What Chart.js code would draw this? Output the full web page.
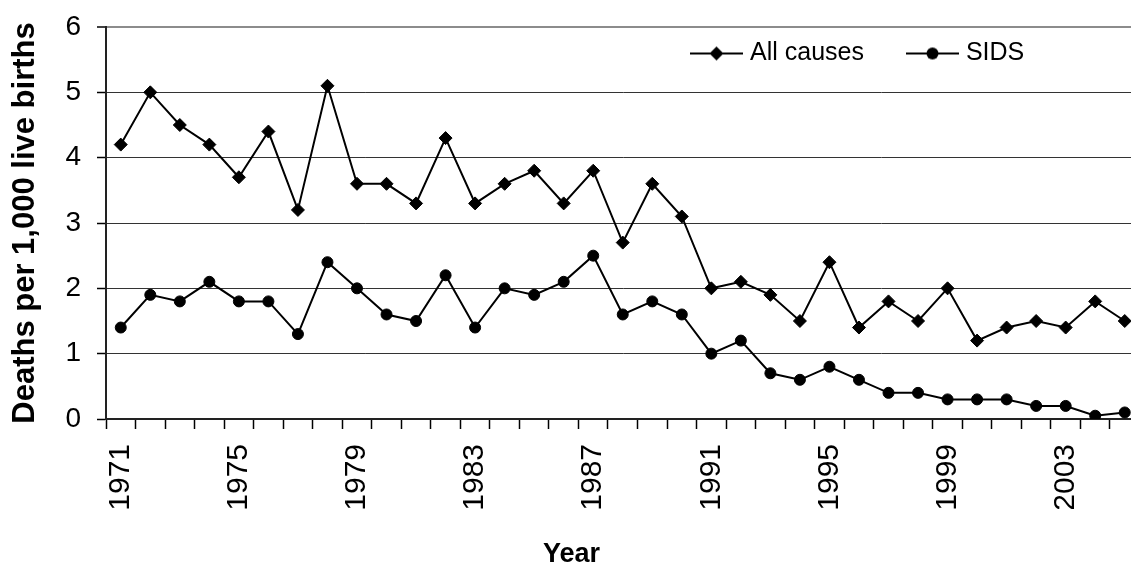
<!DOCTYPE html>
<html>
<head>
<meta charset="utf-8">
<script src="https://cdn.jsdelivr.net/npm/chart.js@4/dist/chart.umd.min.js"></script>
<style>
  html, body { margin: 0; padding: 0; background: #fff; overflow: hidden; }
  #wrap { position: relative; width: 1147px; height: 572px; }
</style>
</head>
<body>
<div id="wrap"><canvas id="c"></canvas></div>
<script>
const years = ['1971','1972','1973','1974','1975','1976','1977','1978','1979','1980',
  '1981','1982','1983','1984','1985','1986','1987','1988','1989','1990',
  '1991','1992','1993','1994','1995','1996','1997','1998','1999','2000',
  '2001','2002','2003','2004','2005'];
const allCauses = [4.2, 5.0, 4.5, 4.2, 3.7, 4.4, 3.2, 5.1, 3.6, 3.6,
  3.3, 4.3, 3.3, 3.6, 3.8, 3.3, 3.8, 2.7, 3.6, 3.1,
  2.0, 2.1, 1.9, 1.5, 2.4, 1.4, 1.8, 1.5, 2.0, 1.2,
  1.4, 1.5, 1.4, 1.8, 1.5];
const sids = [1.4, 1.9, 1.8, 2.1, 1.8, 1.8, 1.3, 2.4, 2.0, 1.6,
  1.5, 2.2, 1.4, 2.0, 1.9, 2.1, 2.5, 1.6, 1.8, 1.6,
  1.0, 1.2, 0.7, 0.6, 0.8, 0.6, 0.4, 0.4, 0.3, 0.3,
  0.3, 0.2, 0.2, 0.05, 0.1];
const seriesNames = ['All causes', 'SIDS'];
const yTicks = [0, 1, 2, 3, 4, 5, 6];

const FONT = '"Liberation Sans", Arial, Helvetica, sans-serif';

function makeIcon(kind) {
  const cv = document.createElement('canvas');
  cv.width = 53; cv.height = 16;
  const g = cv.getContext('2d');
  g.strokeStyle = '#000'; g.fillStyle = '#000'; g.lineWidth = 2;
  g.beginPath(); g.moveTo(0, 8); g.lineTo(53, 8); g.stroke();
  g.beginPath();
  if (kind === 'diamond') {
    g.moveTo(26.5, 1); g.lineTo(33.5, 8); g.lineTo(26.5, 15); g.lineTo(19.5, 8); g.closePath();
  } else {
    g.arc(26.5, 8, 6, 0, Math.PI * 2);
  }
  g.fill();
  return cv;
}
const icons = [makeIcon('diamond'), makeIcon('circle')];

const legendMover = {
  id: 'legendMover',
  afterLayout(chart) {
    const lg = chart.legend;
    if (!lg) return;
    lg.left = 648; lg.right = 1141; lg.width = 493;
    lg.top = -6.5; lg.bottom = 90; lg.height = 96.5;
  }
};

new Chart(document.getElementById('c'), {
  type: 'line',
  data: {
    labels: years,
    datasets: [
      {
        label: seriesNames[0], data: allCauses,
        borderColor: '#000', backgroundColor: '#000', borderWidth: 2,
        pointStyle: 'rectRot', pointRadius: 6.5, pointBorderWidth: 1,
        pointBackgroundColor: '#000', pointBorderColor: '#000', tension: 0
      },
      {
        label: seriesNames[1], data: sids,
        borderColor: '#000', backgroundColor: '#000', borderWidth: 2,
        pointStyle: 'circle', pointRadius: 5.5, pointBorderWidth: 1,
        pointBackgroundColor: '#000', pointBorderColor: '#000', tension: 0
      }
    ]
  },
  options: {
    responsive: true,
    maintainAspectRatio: false,
    animation: false,
    layout: { padding: { left: 0, right: 4, top: 27, bottom: 1.6 } },
    plugins: {
      tooltip: { enabled: false },
      title: {
        display: true, position: 'bottom', text: 'Year', color: '#000',
        font: { family: FONT, size: 27, weight: 'bold' },
        padding: { top: 29, bottom: 0 }
      },
      legend: {
        display: true, position: 'top', align: 'start', fullSize: false, maxHeight: 0.01,
        labels: {
          color: '#000', font: { family: FONT, size: 25 },
          usePointStyle: true, pointStyleWidth: 42, padding: 47.5,
          generateLabels(chart) {
            const items = Chart.defaults.plugins.legend.labels.generateLabels(chart);
            items.forEach((it, i) => { it.pointStyle = icons[i]; });
            return items;
          }
        }
      }
    },
    scales: {
      x: {
        type: 'category',
        offset: true,
        afterFit(scale) { scale.height = 90; scale.paddingLeft = 0; scale.paddingRight = 0; },
        grid: {
          drawOnChartArea: false, drawTicks: true, tickLength: 10, offset: true,
          tickColor: '#000', tickWidth: 1.5
        },
        border: { display: true, color: '#222', width: 2 },
        ticks: {
          autoSkip: false, minRotation: 90, maxRotation: 90, padding: 15,
          color: '#000', font: { family: FONT, size: 30 },
          callback(value, index) { return index % 4 === 0 ? years[index] : ''; }
        }
      },
      y: {
        min: yTicks[0], max: yTicks[yTicks.length - 1],
        afterFit(scale) { scale.width = 106; scale.paddingTop = 0; scale.paddingBottom = 0; },
        grid: {
          drawOnChartArea: true, drawTicks: true, tickLength: 9,
          color: ctx => (ctx.tick && ctx.tick.value === 6) ? '#8c8c8c' : '#333',
          lineWidth: ctx => (ctx.tick && ctx.tick.value === 6) ? 2 : 1,
          tickColor: '#000', tickWidth: 1.5
        },
        border: { display: true, color: '#222', width: 2 },
        ticks: {
          stepSize: 1, padding: 16, color: '#000', font: { family: FONT, size: 28 }
        },
        title: {
          display: true, text: 'Deaths per 1,000 live births', color: '#000',
          font: { family: FONT, size: 31, weight: 'bold' },
          padding: { top: 7, bottom: 0 }
        }
      }
    }
  },
  plugins: [legendMover]
});
</script>
</body>
</html>
